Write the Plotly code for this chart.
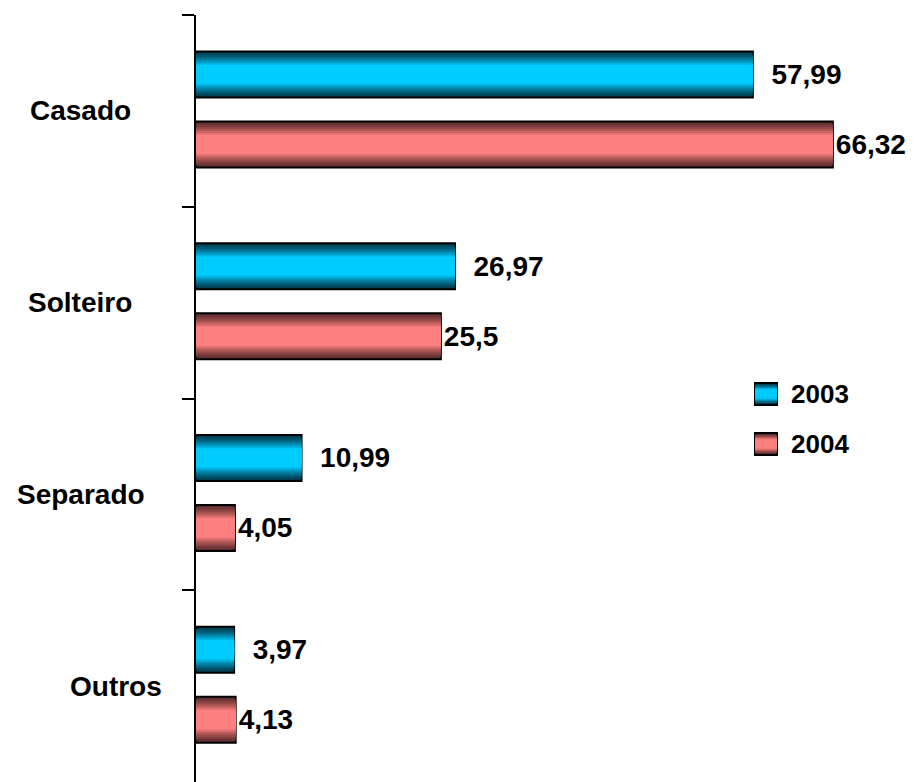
import plotly.graph_objects as go

categories = ["Casado", "Solteiro", "Separado", "Outros"]
years = ["2003", "2004"]
values_2003 = [57.99, 26.97, 10.99, 3.97]
values_2004 = [66.32, 25.5, 4.05, 4.13]
labels_2003 = ["57,99", "26,97", "10,99", "3,97"]
labels_2004 = ["66,32", "25,5", "4,05", "4,13"]

FONT = "Liberation Sans, Arial, sans-serif"

# dark edge -> light centre, used to fake the bevelled gradient
STYLES = {
    "2003": {"dark": (0, 60, 80), "light": (0, 204, 255), "offset": -0.31, "pad": "\u00a0\u00a0"},
    "2004": {"dark": (95, 45, 45), "light": (255, 128, 128), "offset": 0.055, "pad": ""},
}
BAR_W = 0.24
N_LAYERS = 12

# the page body has an 8px margin, so the figure is a bit smaller
PAGE_OFF = 8
PLOT_L, PLOT_T = 196, 15          # where the axis sits on the page
PLOT_W, PLOT_H = 725, 767


def _mix(a, b, t):
    t = max(0.0, min(1.0, t))
    return "rgb({},{},{})".format(*[round(a[i] + (b[i] - a[i]) * t) for i in range(3)])


def px_x(px):
    return (px - PLOT_L) / PLOT_W


def px_y(py):
    return 1 - (py - PLOT_T) / PLOT_H


fig = go.Figure()

for year, vals, labels in [("2003", values_2003, labels_2003), ("2004", values_2004, labels_2004)]:
    st = STYLES[year]
    for k in range(N_LAYERS):
        f = 1 - k / N_LAYERS
        t = ((k / (N_LAYERS - 1)) * 1.6) ** 1.3
        w = BAR_W * f
        outer = k == 0
        fig.add_trace(
            go.Bar(
                y=categories,
                x=vals,
                orientation="h",
                width=w,
                offset=st["offset"] + (BAR_W - w) / 2,
                marker=dict(
                    color=_mix(st["dark"], st["light"], t),
                    line=dict(color="black", width=2 if outer else 0),
                ),
                text=[st["pad"] + s for s in labels] if outer else None,
                textposition="outside" if outer else "none",
                textfont=dict(family=FONT, size=28, color="black", weight="bold"),
                constraintext="none",
                cliponaxis=False,
                showlegend=False,
                hoverinfo=None if outer else "skip",
                name=year,
            )
        )

# category labels (positions as in the original, not right aligned)
label_x = {"Casado": 80, "Solteiro": 80, "Separado": 81, "Outros": 116}
annotations = []
for c in categories:
    annotations.append(
        dict(
            x=px_x(label_x[c]), xref="paper",
            y=c, yref="y",
            text=c, showarrow=False,
            xanchor="center", yanchor="middle",
            font=dict(family=FONT, size=28, color="black", weight="bold"),
        )
    )

# hand-built legend (big squares with the same gradient)
shapes = []
legend_rows = [("2003", 394), ("2004", 444)]
for year, cy in legend_rows:
    st = STYLES[year]
    x0, x1 = 755, 777
    half = 11
    for k in range(6):
        h = half * (1 - k / 6)
        shapes.append(
            dict(
                type="rect", xref="paper", yref="paper",
                x0=px_x(x0), x1=px_x(x1),
                y0=px_y(cy + h), y1=px_y(cy - h),
                fillcolor=_mix(st["dark"], st["light"], ((k / 5) * 1.6) ** 1.3),
                line=dict(color="black", width=2 if k == 0 else 0),
            )
        )
    annotations.append(
        dict(
            x=px_x(789), xref="paper",
            y=px_y(cy), yref="paper",
            text=year, showarrow=False,
            xanchor="left", yanchor="middle",
            font=dict(family=FONT, size=26, color="black", weight="bold"),
        )
    )

fig.update_layout(
    width=921 - PAGE_OFF,
    height=782 - PAGE_OFF,
    barmode="overlay",
    plot_bgcolor="white",
    paper_bgcolor="white",
    margin=dict(l=PLOT_L - PAGE_OFF, r=0, t=PLOT_T - PAGE_OFF, b=0),
    showlegend=False,
    annotations=annotations,
    shapes=shapes,
    font=dict(family=FONT),
)

fig.update_xaxes(range=[0, 75.5], visible=False, showgrid=False)
fig.update_yaxes(
    categoryorder="array",
    categoryarray=categories,
    autorange="reversed",
    showticklabels=False,
    showgrid=False,
    zeroline=False,
    showline=True,
    linecolor="black",
    linewidth=2,
    ticks="outside",
    tickson="boundaries",
    ticklen=12,
    tickwidth=2,
    tickcolor="black",
)

fig.write_html("out.html")
